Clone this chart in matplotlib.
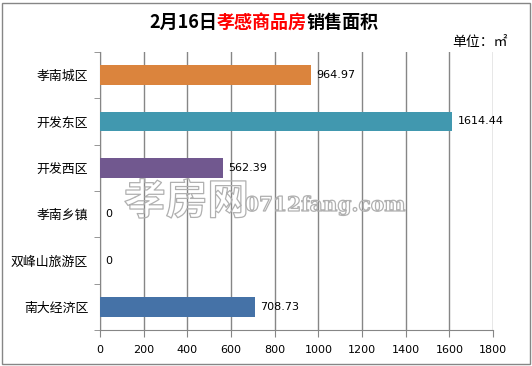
import matplotlib
matplotlib.use("Agg")
from matplotlib import pyplot as plt
from matplotlib import patheffects
from matplotlib.offsetbox import TextArea, HPacker, AnchoredOffsetbox
from matplotlib.patches import Rectangle
import numpy as np

plt.rcParams['font.family'] = ['Noto Sans CJK SC', 'DejaVu Sans']

districts = ["孝南城区", "开发东区", "开发西区", "孝南乡镇", "双峰山旅游区", "南大经济区"]
areas = [964.97, 1614.44, 562.39, 0, 0, 708.73]
bar_colors = ["#DB843D", "#4198AF", "#71588F", "#4572A7", "#4572A7", "#4572A7"]
x_ticks = [0, 200, 400, 600, 800, 1000, 1200, 1400, 1600, 1800]

grid_gray = "#868686"

fig = plt.figure(figsize=(5.32, 3.66), dpi=100)
ax = fig.add_axes([100 / 532, 1 - 330 / 366, 393 / 532, 278 / 366])

pos = np.arange(len(districts))
ax.barh(pos, areas, height=0.43, color=bar_colors, zorder=3)
for p, v in zip(pos, areas):
    label = "0" if v == 0 else f"{v:.2f}"
    ax.annotate(label, (v, p), xytext=(4, 0), textcoords="offset points",
                va="center", ha="left", fontsize=8, family="DejaVu Sans", zorder=4)

ax.set_xlim(0, 1800)
ax.set_ylim(len(districts) - 0.5, -0.5)
ax.set_xticks(x_ticks)
ax.set_xticklabels([str(t) for t in x_ticks], family="DejaVu Sans", fontsize=8)
ax.set_yticks(pos)
ax.set_yticklabels(districts, fontsize=9.3)
ax.set_yticks(np.arange(len(districts) + 1) - 0.5, minor=True)
ax.tick_params(axis="y", which="major", length=0, pad=8.5)
ax.tick_params(axis="y", which="minor", length=4, color=grid_gray, direction="out")
ax.tick_params(axis="x", length=5, color=grid_gray, pad=6)
ax.grid(axis="x", color=grid_gray, linewidth=1, zorder=1)
for side in ["top", "right"]:
    ax.spines[side].set_visible(False)
for side in ["left", "bottom"]:
    ax.spines[side].set_color(grid_gray)
    ax.spines[side].set_zorder(2)

# watermark, outline only
wm = [patheffects.Stroke(linewidth=0.9, foreground="#b0b0b0")]
fig.text(124 / 532, 1 - 202 / 366, "孝房网", fontsize=30, color="none",
         fontweight="bold", va="center", ha="left", path_effects=wm)
fig.text(245 / 532, 1 - 205 / 366, "0712fang.com", fontsize=14.5, color="none",
         family="DejaVu Serif", fontweight="bold", va="center", ha="left",
         path_effects=wm)

# title in three colours
parts = [("2月16日", "black"), ("孝感商品房", "#FF0000"), ("销售面积", "black")]
boxes = [TextArea(t, textprops=dict(color=c, fontsize=13, fontweight="bold")) for t, c in parts]
title = AnchoredOffsetbox(loc="center", child=HPacker(children=boxes, pad=0, sep=0),
                          bbox_to_anchor=(264 / 532, 1 - 22 / 366),
                          bbox_transform=fig.transFigure, frameon=False, pad=0)
fig.add_artist(title)

fig.text(508 / 532, 1 - 42 / 366, "单位：㎡", fontsize=10, ha="right", va="center")

fig.add_artist(Rectangle((1.5 / 532, 2.5 / 366), 528 / 532, 361 / 366,
                         transform=fig.transFigure, fill=False,
                         edgecolor=grid_gray, linewidth=1))

fig.savefig("out.png", dpi=100)
